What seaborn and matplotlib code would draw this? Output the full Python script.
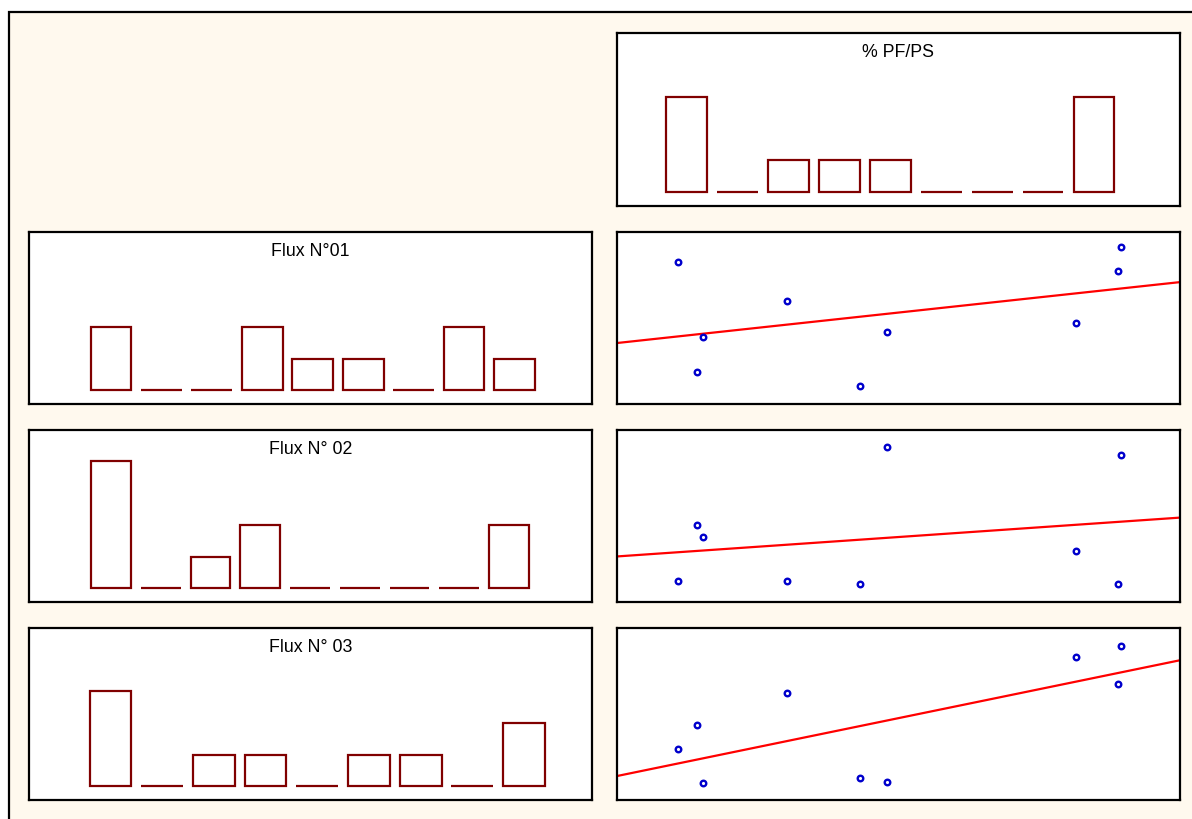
import matplotlib
matplotlib.use("Agg")
import matplotlib.pyplot as plt
from matplotlib.patches import Rectangle
import seaborn as sns
import numpy as np
import pandas as pd

# ---------------- data ----------------
bar_categories = ["1", "2", "3", "4", "5", "6", "7", "8", "9"]
pf_ps_values = [3, 0, 1, 1, 1, 0, 0, 0, 3]
flux01_values = [2, 0, 0, 2, 1, 1, 0, 2, 1]
flux02_values = [4, 0, 1, 2, 0, 0, 0, 0, 2]
flux03_values = [3, 0, 1, 1, 0, 1, 1, 0, 2]

scatter_x = [10.9, 14.2, 15.3, 30.2, 43.1, 47.9, 81.5, 88.9, 89.5]
flux01_y = [82.2, 18.6, 39.0, 59.7, 10.5, 42.0, 46.9, 77.3, 91.1]
flux02_y = [12.0, 44.8, 37.4, 12.0, 10.5, 90.1, 29.7, 10.5, 85.5]
flux03_y = [29.7, 43.6, 9.5, 62.0, 12.8, 10.5, 83.1, 67.4, 89.5]

titles = ["% PF/PS", "Flux N°01", "Flux N° 02", "Flux N° 03"]

# ---------------- style ----------------
sns.set_theme(style="white")
plt.rcParams["font.family"] = ["Liberation Sans", "DejaVu Sans"]

W, H = 1192, 820
fig = plt.figure(figsize=(W / 100, H / 100), dpi=100)
fig.patch.set_facecolor("white")

cream = "#FFF9EE"
bg = Rectangle((8.5 / W, -0.1), 1.2, 1.1 - 12.8 / H, transform=fig.transFigure,
               facecolor=cream, edgecolor="black", linewidth=1.6, zorder=-10)
fig.patches.append(bg)

bar_edge = "#800000"
DY = 0.8


def px_axes(x0, y0, x1, y1):
    y0 += DY
    y1 += DY
    return fig.add_axes([x0 / W, 1 - y1 / H, (x1 - x0) / W, (y1 - y0) / H])


def style_ax(ax):
    ax.set_facecolor("white")
    for s in ax.spines.values():
        s.set_visible(True)
        s.set_color("black")
        s.set_linewidth(1.6)
    ax.set_xticks([])
    ax.set_yticks([])
    ax.set_xlabel("")
    ax.set_ylabel("")


def bar_panel(ax, values, title, xlim, width):
    df = pd.DataFrame({"cat": bar_categories, "val": values})
    sns.barplot(data=df, x="cat", y="val", ax=ax, color="white",
                saturation=1, edgecolor=bar_edge, linewidth=1.6,
                width=width, errorbar=None)
    ax.set_xlim(*xlim)
    ax.set_ylim(-0.43, 5.0)
    style_ax(ax)
    ax.text(0.5, 1 - 18.5 / 172, title, transform=ax.transAxes,
            ha="center", va="center", fontsize=12.8, color="black")


def scatter_panel(ax, yvals):
    ax.set_xlim(0, 100)
    ax.set_ylim(0, 100)
    sns.regplot(x=np.array(scatter_x), y=np.array(yvals), ax=ax, ci=None,
                truncate=False,
                scatter_kws=dict(s=16, facecolors="white", edgecolors="#0000CC",
                                 linewidths=1.7, alpha=1, zorder=3),
                line_kws=dict(color="#FF0000", linewidth=1.6, zorder=2))
    ax.set_xlim(0, 100)
    ax.set_ylim(0, 100)
    style_ax(ax)


# top right: % PF/PS
ax_top = px_axes(617, 33, 1180, 206)
bar_panel(ax_top, pf_ps_values, titles[0], (-1.364, 9.688), 0.80)

rows = [(232, 404), (430, 602), (628, 800)]
flux_vals = [flux01_values, flux02_values, flux03_values]
flux_y = [flux01_y, flux02_y, flux03_y]
xlims = [(-1.626, 9.537), (-1.648, 9.668), (-1.577, 9.316)]
widths = [0.81, 0.80, 0.81]

for i, (y0, y1) in enumerate(rows):
    axl = px_axes(29, y0, 592, y1)
    bar_panel(axl, flux_vals[i], titles[i + 1], xlims[i], widths[i])
    axr = px_axes(617, y0, 1180, y1)
    scatter_panel(axr, flux_y[i])

fig.savefig("out.png", dpi=100, facecolor=fig.get_facecolor())
